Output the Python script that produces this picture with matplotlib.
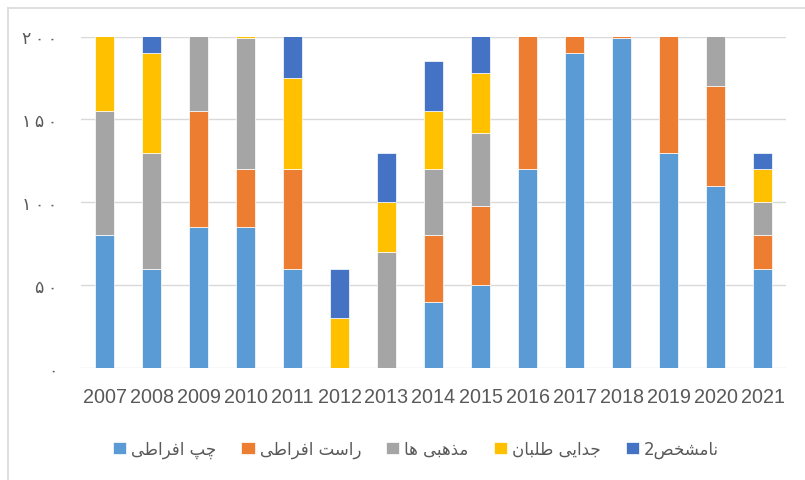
import matplotlib
matplotlib.use('Agg')
import matplotlib.pyplot as plt
from matplotlib.lines import Line2D
import numpy as np

# Data
years = ['2007', '2008', '2009', '2010', '2011', '2012', '2013', '2014',
         '2015', '2016', '2017', '2018', '2019', '2020', '2021']
left_ext = [80, 60, 85, 85, 60, 0, 0, 40, 50, 120, 190, 199, 130, 110, 60]
right_ext = [0, 0, 70, 35, 60, 0, 0, 40, 48, 90, 20, 10, 80, 60, 20]
religious = [75, 70, 50, 79, 0, 0, 70, 40, 44, 0, 0, 0, 0, 40, 20]
separatist = [50, 60, 0, 10, 55, 30, 30, 35, 36, 0, 0, 0, 0, 0, 20]
unknown = [0, 20, 0, 0, 30, 30, 30, 30, 25, 0, 0, 0, 0, 0, 10]
series_names = ['چپ افراطی', 'راست افراطی', 'مذهبی ها', 'جدایی طلبان', 'نامشخص2']
yticks = [0, 50, 100, 150, 200]
ytick_labels = ['۰', '۵۰', '۱۰۰', '۱۵۰', '۲۰۰']

colors = ['#5B9BD5', '#ED7D31', '#A5A5A5', '#FFC000', '#4472C4']

# tiny persian shaper (matplotlib has no bidi / joining)
FORMS = {
    'ا': ('\uFE8D', '\uFE8E', None, None),
    'ب': ('\uFE8F', '\uFE90', '\uFE91', '\uFE92'),
    'پ': ('\uFB56', '\uFB57', '\uFB58', '\uFB59'),
    'ت': ('\uFE95', '\uFE96', '\uFE97', '\uFE98'),
    'ج': ('\uFE9D', '\uFE9E', '\uFE9F', '\uFEA0'),
    'چ': ('\uFB7A', '\uFB7B', '\uFB7C', '\uFB7D'),
    'خ': ('\uFEA5', '\uFEA6', '\uFEA7', '\uFEA8'),
    'د': ('\uFEA9', '\uFEAA', None, None),
    'ذ': ('\uFEAB', '\uFEAC', None, None),
    'ر': ('\uFEAD', '\uFEAE', None, None),
    'س': ('\uFEB1', '\uFEB2', '\uFEB3', '\uFEB4'),
    'ش': ('\uFEB5', '\uFEB6', '\uFEB7', '\uFEB8'),
    'ص': ('\uFEB9', '\uFEBA', '\uFEBB', '\uFEBC'),
    'ط': ('\uFEC1', '\uFEC2', '\uFEC3', '\uFEC4'),
    'ف': ('\uFED1', '\uFED2', '\uFED3', '\uFED4'),
    'ل': ('\uFEDD', '\uFEDE', '\uFEDF', '\uFEE0'),
    'م': ('\uFEE1', '\uFEE2', '\uFEE3', '\uFEE4'),
    'ن': ('\uFEE5', '\uFEE6', '\uFEE7', '\uFEE8'),
    'ه': ('\uFEE9', '\uFEEA', '\uFEEB', '\uFEEC'),
    'ی': ('\uFBFC', '\uFBFD', '\uFBFE', '\uFBFF'),
}

def joins_next(c):
    return c in FORMS and FORMS[c][2] is not None

def shape(txt):
    out = []
    arabic = ''
    digits = ''
    for ch in txt:
        if ch in FORMS or ch == ' ':
            arabic += ch
        else:
            digits += ch
    for i, ch in enumerate(arabic):
        if ch not in FORMS:
            out.append(ch)
            continue
        prev = arabic[i - 1] if i > 0 else ''
        nxt = arabic[i + 1] if i + 1 < len(arabic) else ''
        jp = joins_next(prev)
        jn = joins_next(ch) and nxt in FORMS
        iso, fin, ini, med = FORMS[ch]
        if jp and jn:
            out.append(med)
        elif jp:
            out.append(fin)
        elif jn:
            out.append(ini)
        else:
            out.append(iso)
    return digits + ''.join(out[::-1])

plt.rcParams['font.family'] = ['Liberation Sans', 'DejaVu Sans']

fig = plt.figure(figsize=(8.05, 4.81), dpi=100)
ax = fig.add_axes([81 / 805, 1 - 369 / 481, 705 / 805, 331.5 / 481])

x = np.arange(len(years))
bottom = np.zeros(len(years))
data = [left_ext, right_ext, religious, separatist, unknown]
for vals, c, name in zip(data, colors, series_names):
    ax.bar(x, vals, 0.39, bottom=bottom, color=c, edgecolor='white',
           linewidth=0.5, label=shape(name), zorder=3)
    bottom += np.array(vals)

ax.set_xlim(-0.5, len(years) - 0.5)
ax.set_ylim(0, 200)
ax.set_yticks(yticks)
ax.set_yticklabels(['\u2009'.join(s) for s in ytick_labels], family='DejaVu Sans',
                   fontsize=12.5, color='#595959')
ax.set_xticks(x)
ax.set_xticklabels(years, fontsize=14.2, color='#595959')
ax.tick_params(axis='both', length=0)
ax.tick_params(axis='y', pad=17)
ax.tick_params(axis='x', pad=14)
ax.grid(axis='y', color='#D9D9D9', linewidth=1.0, zorder=0)
for s in ax.spines.values():
    s.set_visible(False)

leg = ax.legend(loc='center', bbox_to_anchor=(416 / 805, 31 / 481),
                bbox_transform=fig.transFigure, ncol=5, frameon=False,
                handlelength=0.8, handleheight=0.8, handletextpad=0.3,
                columnspacing=1.5, prop={'family': 'DejaVu Sans', 'size': 12})
for t in leg.get_texts():
    t.set_color('#595959')

# chart frame (only left/top edges visible in the crop)
fig.add_artist(Line2D([7.5 / 805, 7.5 / 805], [0, 1 - 9 / 481], color='#D9D9D9', lw=1.2, transform=fig.transFigure))
fig.add_artist(Line2D([7.5 / 805, 1], [1 - 9 / 481, 1 - 9 / 481], color='#D9D9D9', lw=1.2, transform=fig.transFigure))

fig.savefig('out.png', dpi=100)
